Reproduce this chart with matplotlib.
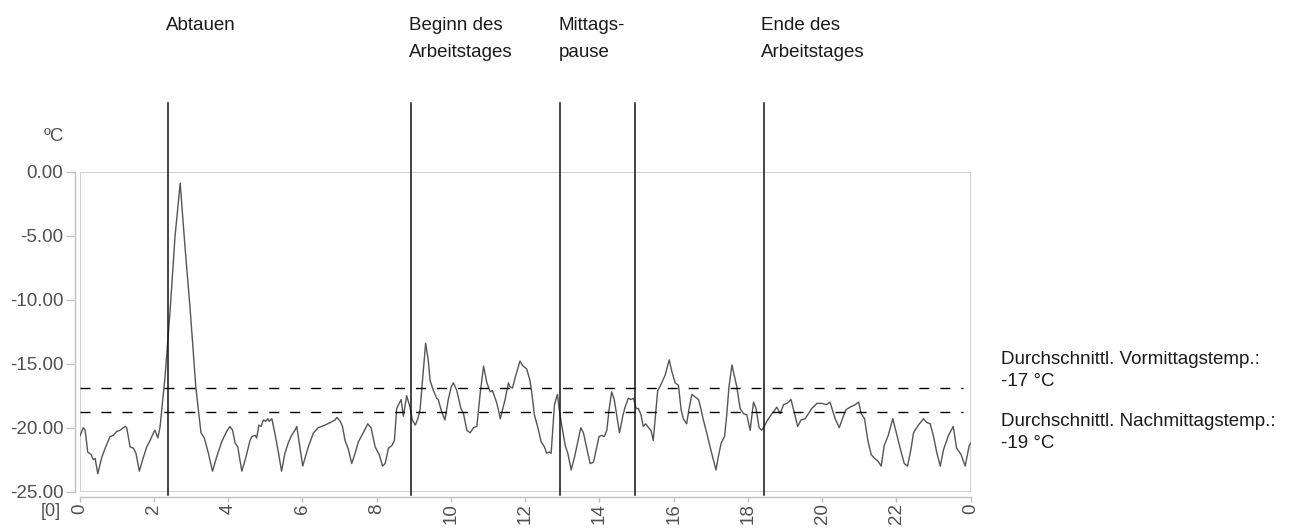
import matplotlib.pyplot as plt
from matplotlib.patches import Rectangle

# temperature log of one day (hours, deg C)
hours = [0.00, 0.10, 0.15, 0.22, 0.31, 0.37, 0.42, 0.49, 0.60, 0.69, 0.82, 0.91, 1.00, 1.09, 1.23, 1.27,
         1.36, 1.45, 1.52, 1.61, 1.72, 1.81, 1.90, 1.99, 2.03, 2.11, 2.17, 2.23, 2.30, 2.44, 2.57, 2.71,
         2.84, 2.98, 3.13, 3.27, 3.36, 3.47, 3.58, 3.69, 3.83, 3.96, 4.05, 4.12, 4.19, 4.26, 4.37, 4.48,
         4.59, 4.64, 4.73, 4.77, 4.83, 4.89, 4.95, 5.01, 5.07, 5.11, 5.18, 5.27, 5.36, 5.44, 5.53, 5.62,
         5.71, 5.80, 5.85, 6.01, 6.16, 6.30, 6.43, 6.52, 6.61, 6.75, 6.88, 6.93, 7.02, 7.08, 7.15, 7.24,
         7.33, 7.42, 7.51, 7.64, 7.76, 7.85, 7.96, 8.07, 8.16, 8.23, 8.32, 8.41, 8.48, 8.54, 8.61, 8.66,
         8.72, 8.81, 8.90, 8.96, 9.04, 9.11, 9.17, 9.26, 9.32, 9.39, 9.44, 9.53, 9.62, 9.66, 9.75, 9.84,
         9.93, 10.01, 10.07, 10.16, 10.27, 10.34, 10.43, 10.52, 10.61, 10.70, 10.79, 10.88, 10.97, 11.06,
         11.12, 11.24, 11.33, 11.46, 11.55, 11.59, 11.66, 11.73, 11.86, 11.95, 12.04, 12.13, 12.18, 12.25,
         12.36, 12.43, 12.52, 12.58, 12.65, 12.70, 12.79, 12.87, 12.92, 12.99, 13.08, 13.15, 13.24, 13.33,
         13.42, 13.50, 13.57, 13.66, 13.75, 13.84, 13.93, 13.99, 14.06, 14.13, 14.20, 14.26, 14.33, 14.40,
         14.47, 14.54, 14.63, 14.69, 14.78, 14.85, 14.92, 14.99, 15.05, 15.12, 15.18, 15.25, 15.32, 15.39,
         15.45, 15.57, 15.63, 15.77, 15.88, 15.95, 16.04, 16.13, 16.20, 16.26, 16.35, 16.41, 16.49, 16.58,
         16.67, 16.74, 16.80, 16.89, 16.98, 17.07, 17.14, 17.20, 17.28, 17.37, 17.43, 17.49, 17.57, 17.63,
         17.70, 17.79, 17.88, 17.97, 18.06, 18.15, 18.22, 18.30, 18.37, 18.44, 18.51, 18.60, 18.69, 18.78,
         18.87, 18.96, 19.05, 19.16, 19.22, 19.34, 19.43, 19.54, 19.63, 19.72, 19.86, 19.99, 20.12, 20.21,
         20.35, 20.46, 20.57, 20.64, 20.75, 20.89, 20.98, 21.05, 21.14, 21.23, 21.32, 21.41, 21.50, 21.59,
         21.67, 21.78, 21.90, 21.98, 22.10, 22.21, 22.30, 22.39, 22.46, 22.59, 22.73, 22.82, 22.91, 23.00,
         23.09, 23.18, 23.27, 23.40, 23.53, 23.62, 23.74, 23.85, 23.96, 24.00]
temps = [-20.7, -20.0, -20.2, -21.9, -22.1, -22.5, -22.4, -23.6, -22.3, -21.6, -20.7, -20.6, -20.3, -20.2, -19.9, -20.0,
         -21.5, -21.6, -22.0, -23.4, -22.3, -21.5, -21.0, -20.4, -20.2, -20.8, -19.9, -18.1, -16.1, -10.8, -5.1, -0.9,
         -5.9, -10.8, -16.8, -20.4, -20.8, -22.0, -23.4, -22.3, -21.1, -20.3, -19.9, -20.2, -21.2, -21.5, -23.4, -22.3,
         -21.0, -20.7, -20.6, -20.8, -19.8, -19.9, -19.4, -19.5, -19.3, -19.5, -19.3, -20.6, -22.0, -23.4, -22.0, -21.2,
         -20.6, -20.2, -19.9, -23.0, -21.5, -20.4, -20.0, -19.9, -19.8, -19.6, -19.4, -19.2, -19.5, -19.9, -21.0, -21.7,
         -22.8, -22.0, -21.1, -20.4, -19.7, -20.0, -21.5, -22.1, -23.0, -22.8, -21.6, -21.4, -21.0, -18.5, -18.1, -17.8,
         -19.1, -17.5, -18.4, -19.4, -19.8, -19.3, -18.6, -15.5, -13.4, -14.7, -16.3, -17.1, -17.7, -17.8, -18.75, -19.4,
         -17.8, -16.8, -16.5, -17.1, -18.5, -18.9, -20.2, -20.4, -20.0, -19.9, -17.3, -15.2, -16.5, -17.2,
         -17.1, -18.1, -19.3, -17.8, -16.5, -16.8, -16.9, -16.1, -14.8, -15.2, -15.4, -16.3, -17.3, -19.0,
         -20.2, -21.1, -21.5, -22.0, -21.9, -22.0, -18.2, -17.4, -18.6, -19.9, -21.4, -22.0, -23.3, -22.3,
         -21.1, -20.0, -20.4, -21.6, -22.8, -22.7, -21.5, -20.7, -20.6, -20.7, -20.2, -18.6, -17.2, -17.8,
         -19.1, -20.4, -19.1, -18.4, -17.7, -17.8, -17.7, -18.5, -18.5, -19.0, -19.9, -19.7, -20.0, -20.2,
         -21.0, -17.1, -16.8, -15.9, -14.7, -15.6, -16.5, -16.7, -18.6, -19.3, -19.7, -18.6, -17.4, -17.6,
         -17.8, -18.6, -19.4, -20.4, -21.5, -22.5, -23.3, -22.3, -21.2, -20.7, -19.0, -16.8, -15.1, -15.9,
         -16.8, -18.5, -18.9, -19.0, -20.2, -18.0, -18.5, -20.0, -20.2, -19.9, -19.5, -19.1, -18.75, -18.4,
         -18.9, -18.2, -18.1, -17.8, -18.5, -19.9, -19.4, -19.3, -18.9, -18.5, -18.1, -18.1, -18.2, -18.0,
         -19.3, -20.0, -19.1, -18.6, -18.4, -18.2, -18.0, -18.9, -19.3, -21.0, -22.1, -22.4, -22.6, -23.0,
         -21.4, -20.6, -19.3, -20.2, -21.6, -22.8, -23.0, -21.7, -20.4, -19.8, -19.3, -19.6, -19.7, -20.7,
         -22.0, -23.0, -21.7, -20.6, -19.9, -21.6, -22.1, -23.0, -21.4, -21.2]

# averages (morning / afternoon)
avg_temps = [-16.9, -18.75]
avg_labels = ["Durchschnittl. Vormittagstemp.:", "-17 °C",
              "Durchschnittl. Nachmittagstemp.:", "-19 °C"]

# events during the day
event_hours = [2.39, 8.93, 12.95, 14.96, 18.42]
event_labels = ["Abtauen", "Beginn des\nArbeitstages", "Mittags-\npause", None, "Ende des\nArbeitstages"]

x_ticks = list(range(0, 25, 2))
x_ticklabels = [str(h % 24) for h in x_ticks]
y_ticks = [0, -5, -10, -15, -20, -25]

plt.rcParams['font.family'] = ['Liberation Sans', 'DejaVu Sans']

fig = plt.figure(figsize=(13, 5.3), dpi=100)
ax = fig.add_axes([0.0612, 0.0723, 0.6855, 0.6038])

ax.plot(hours, temps, color='#555555', lw=1.0, zorder=3)

# dashed average lines
for t in avg_temps:
    ax.plot([0, 23.8], [t, t], color='black', lw=1.0, dashes=(7.2, 7.9), zorder=4)

# event lines reach above the plot area
for h in event_hours:
    ax.plot([h, h], [-25.25, 5.4], color='#111111', lw=1.1, clip_on=False, zorder=5)

ax.set_xlim(0, 24)
ax.set_ylim(-25, 0)
ax.set_xticks(x_ticks)
ax.set_xticklabels(x_ticklabels)
ax.set_yticks(y_ticks)
ax.set_yticklabels(['%.2f' % v for v in y_ticks])

# gray frame plus offset axis lines
ax.add_patch(Rectangle((0, 0), 1, 1, transform=ax.transAxes, fill=False,
                       edgecolor='#cccccc', lw=1.3, zorder=2))
for s in ['top', 'right']:
    ax.spines[s].set_visible(False)
ax.spines['left'].set_position(('outward', 3.2))
ax.spines['bottom'].set_position(('outward', 3.8))
for s in ['left', 'bottom']:
    ax.spines[s].set_color('#c0c0c0')
    ax.spines[s].set_linewidth(1.0)
ax.tick_params(axis='y', direction='out', length=6.7, width=1.0, color='#c0c0c0',
               labelcolor='#505050', labelsize=13.5, pad=1.8)
ax.tick_params(axis='x', direction='out', length=3.6, width=1.0, color='#c0c0c0',
               labelcolor='#505050', labelsize=13.5, pad=1.0, labelrotation=90)

fig.text(53.5 / 1300, 1 - 136.5 / 530, 'ºC', color='#505050', fontsize=13.5, ha='center', va='center')
fig.text(51 / 1300, 1 - 512 / 530, '[0]', color='#505050', fontsize=13, ha='center', va='center')

# event labels over the lines
for h, lab in zip(event_hours, event_labels):
    if lab is None:
        continue
    px = 79.5 + h * 37.13 - 2
    fig.text(px / 1300, 1 - 17 / 530, lab, fontsize=13.5, color='#1a1a1a',
             ha='left', va='top', linespacing=1.75)

# average labels on the right
for lab, py in zip(avg_labels, [360, 381.7, 421.7, 443.3]):
    fig.text(1001 / 1300, 1 - py / 530, lab, fontsize=13.5, color='#1a1a1a', ha='left', va='center')

fig.savefig('out.png', dpi=100)
